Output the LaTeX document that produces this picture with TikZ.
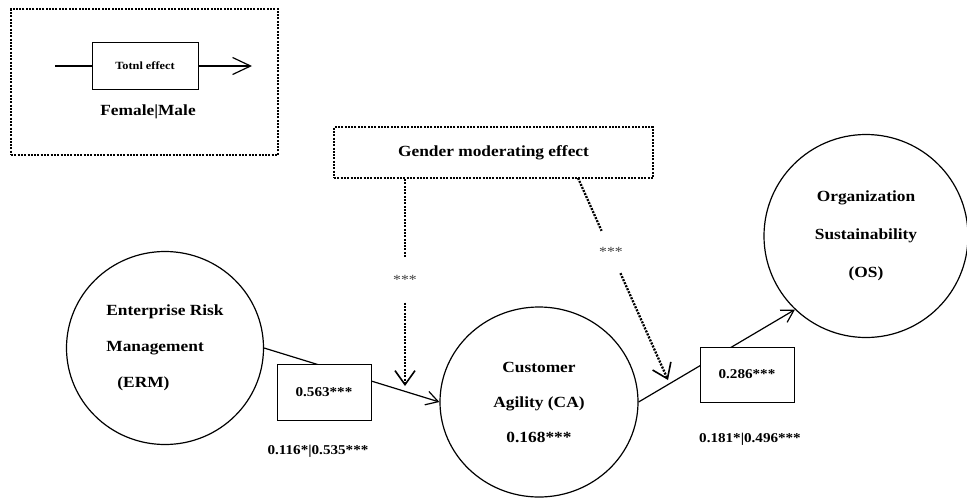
\documentclass[tikz,border=0pt]{standalone}
\usepackage{fontspec}
\setmainfont{Liberation Serif}[FakeStretch=1.12]
\usetikzlibrary{arrows.meta,shapes.geometric}

\tikzset{
  construct/.style={ellipse, draw, line width=1.2pt, inner sep=0pt,
    font=\bfseries\fontsize{15.5}{36}\selectfont},
  valbox/.style={draw, fill=white, line width=1pt, inner sep=0pt,
    minimum width=94, font=\bfseries\fontsize{13.5}{16}\selectfont},
  vallabel/.style={inner sep=0pt, font=\bfseries\fontsize{13.5}{16}\selectfont},
  link/.style={line width=1.2pt, -{Straight Barb[length=12pt,width=14pt]}},
  modline/.style={line width=2.3pt, dash pattern=on 2pt off 1.3pt},
  modtip/.style={-{Straight Barb[length=14pt,width=20pt,line width=1.6pt]}},
  dotbox/.style={draw, modline},
  gap/.style={circle, inner sep=0pt, text=black!75,
    font=\mdseries\fontsize{14}{16}\selectfont},
}

\begin{document}
\begin{tikzpicture}[x=1pt,y=-1pt]
\useasboundingbox (0,0) rectangle (967,499);

% legend
\node[dotbox, minimum width=267, minimum height=146] (legend) at (144.5,82) {};
\node[draw, line width=1pt, minimum width=106, minimum height=47,
  font=\bfseries\fontsize{11}{13}\selectfont] (tot) at (145,66) {Totnl effect};
\coordinate (lin) at (55,66);
\coordinate (lout) at (252,66);
\draw[line width=1.2pt] (lin) -- (tot.west);
\draw[line width=1.2pt, -{Straight Barb[length=18pt,width=17pt]}] (tot.east) -- (lout);
\node[font=\bfseries\fontsize{15.5}{18}\selectfont] (fm) at (148,112) {Female|Male};

% moderator box
\node[dotbox, minimum width=319, minimum height=51,
  font=\bfseries\fontsize{15.5}{18}\selectfont] (g) at (493.5,152.5) {Gender moderating effect};

% constructs
\node[construct, minimum width=197, minimum height=193, align=left] (erm) at (165,348)
  {Enterprise Risk\\Management\\\hspace{11pt}(ERM)};
\node[construct, minimum width=198, minimum height=190, align=center,
  font=\bfseries\fontsize{15.5}{35}\selectfont] (ca) at (539,402)
  {Customer\\Agility (CA)\\0.168***};
\node[construct, minimum width=204, minimum height=203, align=center,
  font=\bfseries\fontsize{15.5}{38}\selectfont] (os) at (866,236)
  {Organization\\Sustainability\\(OS)};

% paths and coefficients
\draw[link] (erm.east) -- (ca.west);
\node[valbox, minimum height=56] (b1) at (324,392) {0.563***};
\node[vallabel] (g1) at (318,451) {0.116*|0.535***};

\draw[link] (ca.east) -- (os.226);
\node[valbox, minimum height=55] (b2) at (747,374.5) {0.286***};
\node[vallabel] (g2) at (750,439) {0.181*|0.496***};

% moderating effects
\node[gap, minimum size=45] (s1) at (405,280) {***};
\coordinate (t1) at (405,386);
\draw[modline] (g.south -| s1) -- (s1);
\draw[modline, modtip] (s1) -- (t1);

\coordinate (m2) at (578,178);
\node[gap, minimum size=46] (s2) at (611,252) {***};
\coordinate (t2) at (668,380);
\draw[modline] (m2) -- (s2);
\draw[modline, modtip] (s2) -- (t2);
\end{tikzpicture}
\end{document}
